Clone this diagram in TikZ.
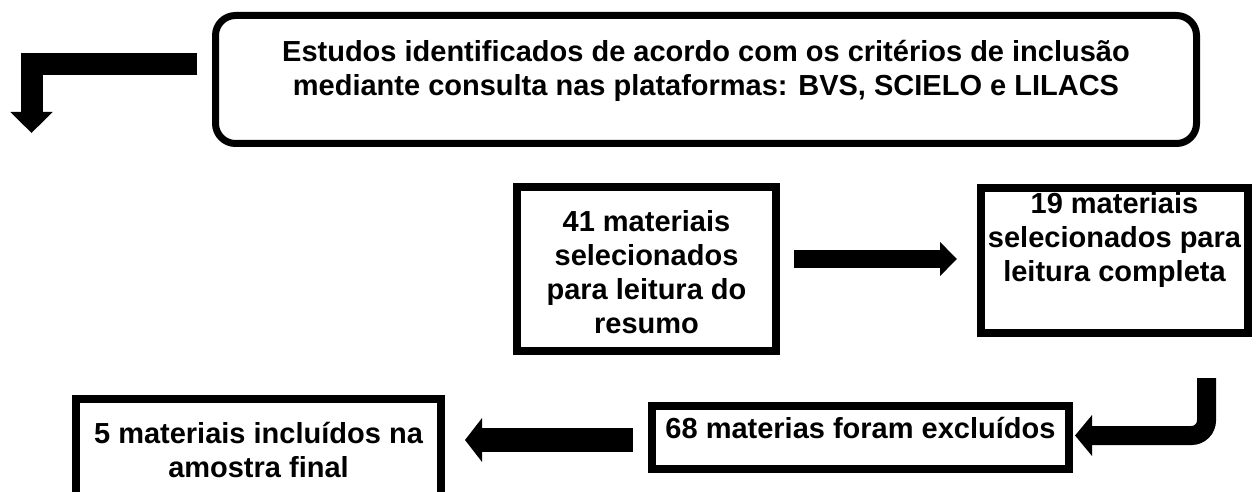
\documentclass[tikz,border=0pt]{standalone}
\usepackage{fontspec}
\setmainfont{Liberation Sans}
\usetikzlibrary{arrows.meta,calc}
\begin{document}
\begin{tikzpicture}[x=1pt,y=-1pt,
  box/.style={draw=black, line width=8pt, inner sep=0pt, outer sep=0pt},
  rbox/.style={draw=black, line width=7pt, rounded corners=20pt, inner sep=0pt, outer sep=0pt},
  lbl/.style={font=\fontsize{29}{34}\selectfont\bfseries, align=center, anchor=base, inner sep=0pt},
  barrow/.style={draw=black, line join=miter}
]
\useasboundingbox (0,0) rectangle (1259,492);
\clip (0,0) rectangle (1259,492);

% boxes
\node[rbox, minimum width=981pt, minimum height=128pt] (top) at (706,79.5) {};
\node[box, minimum width=259pt, minimum height=164pt] (b41) at (646.5,269) {};
\node[box, minimum width=267pt, minimum height=145pt] (b19) at (1114.5,260.5) {};
\node[box, minimum width=417pt, minimum height=63pt] (b68) at (860.5,437.5) {};
\node[box, minimum width=365pt, minimum height=117pt] (b5) at (258.5,457.5) {};

% texts (anchor base = baseline of the last line)
\node[lbl] (ttop) at (706,96) {Estudos identificados de acordo com os critérios de inclusão\\mediante consulta nas plataformas: BVS, SCIELO e LILACS};
\node[lbl] (t41) at (646.5,333) {41 materiais\\selecionados\\para leitura do\\resumo};
\node[lbl] (t19) at (1114.5,281) {19 materiais\\selecionados para\\leitura completa};
\node[lbl] (t68) at (860.5,438) {68 materias foram excluídos};
\node[lbl] (t5) at (258.5,477) {5 materiais incluídos na\\amostra final};

% free ends
\coordinate (tl) at (31.5,133);
\coordinate (br) at (1206.5,378);

% arrows
\draw[barrow, line width=22pt, -{Triangle[length=21pt,width=41pt]}]
  ($(top.west)+(-18.5,-15.5)$) -| (tl);
\draw[barrow, line width=18pt, -{Triangle[length=17pt,width=33pt]}]
  ($(b41.east |- b19.west)+(18,-1.5)$) -- ($(b19.west)+(-24,-1.5)$);
\draw[barrow, line width=19pt, rounded corners=15pt, -{Triangle[length=17pt,width=40pt]}]
  (br) |- ($(b68.east)+(6,-2)$);
\draw[barrow, line width=24pt, -{Triangle[length=17pt,width=43pt]}]
  ($(b68.west)+(-19,2.5)$) -- ($(b5.east |- b68.west)+(24,2.5)$);
\end{tikzpicture}
\end{document}
